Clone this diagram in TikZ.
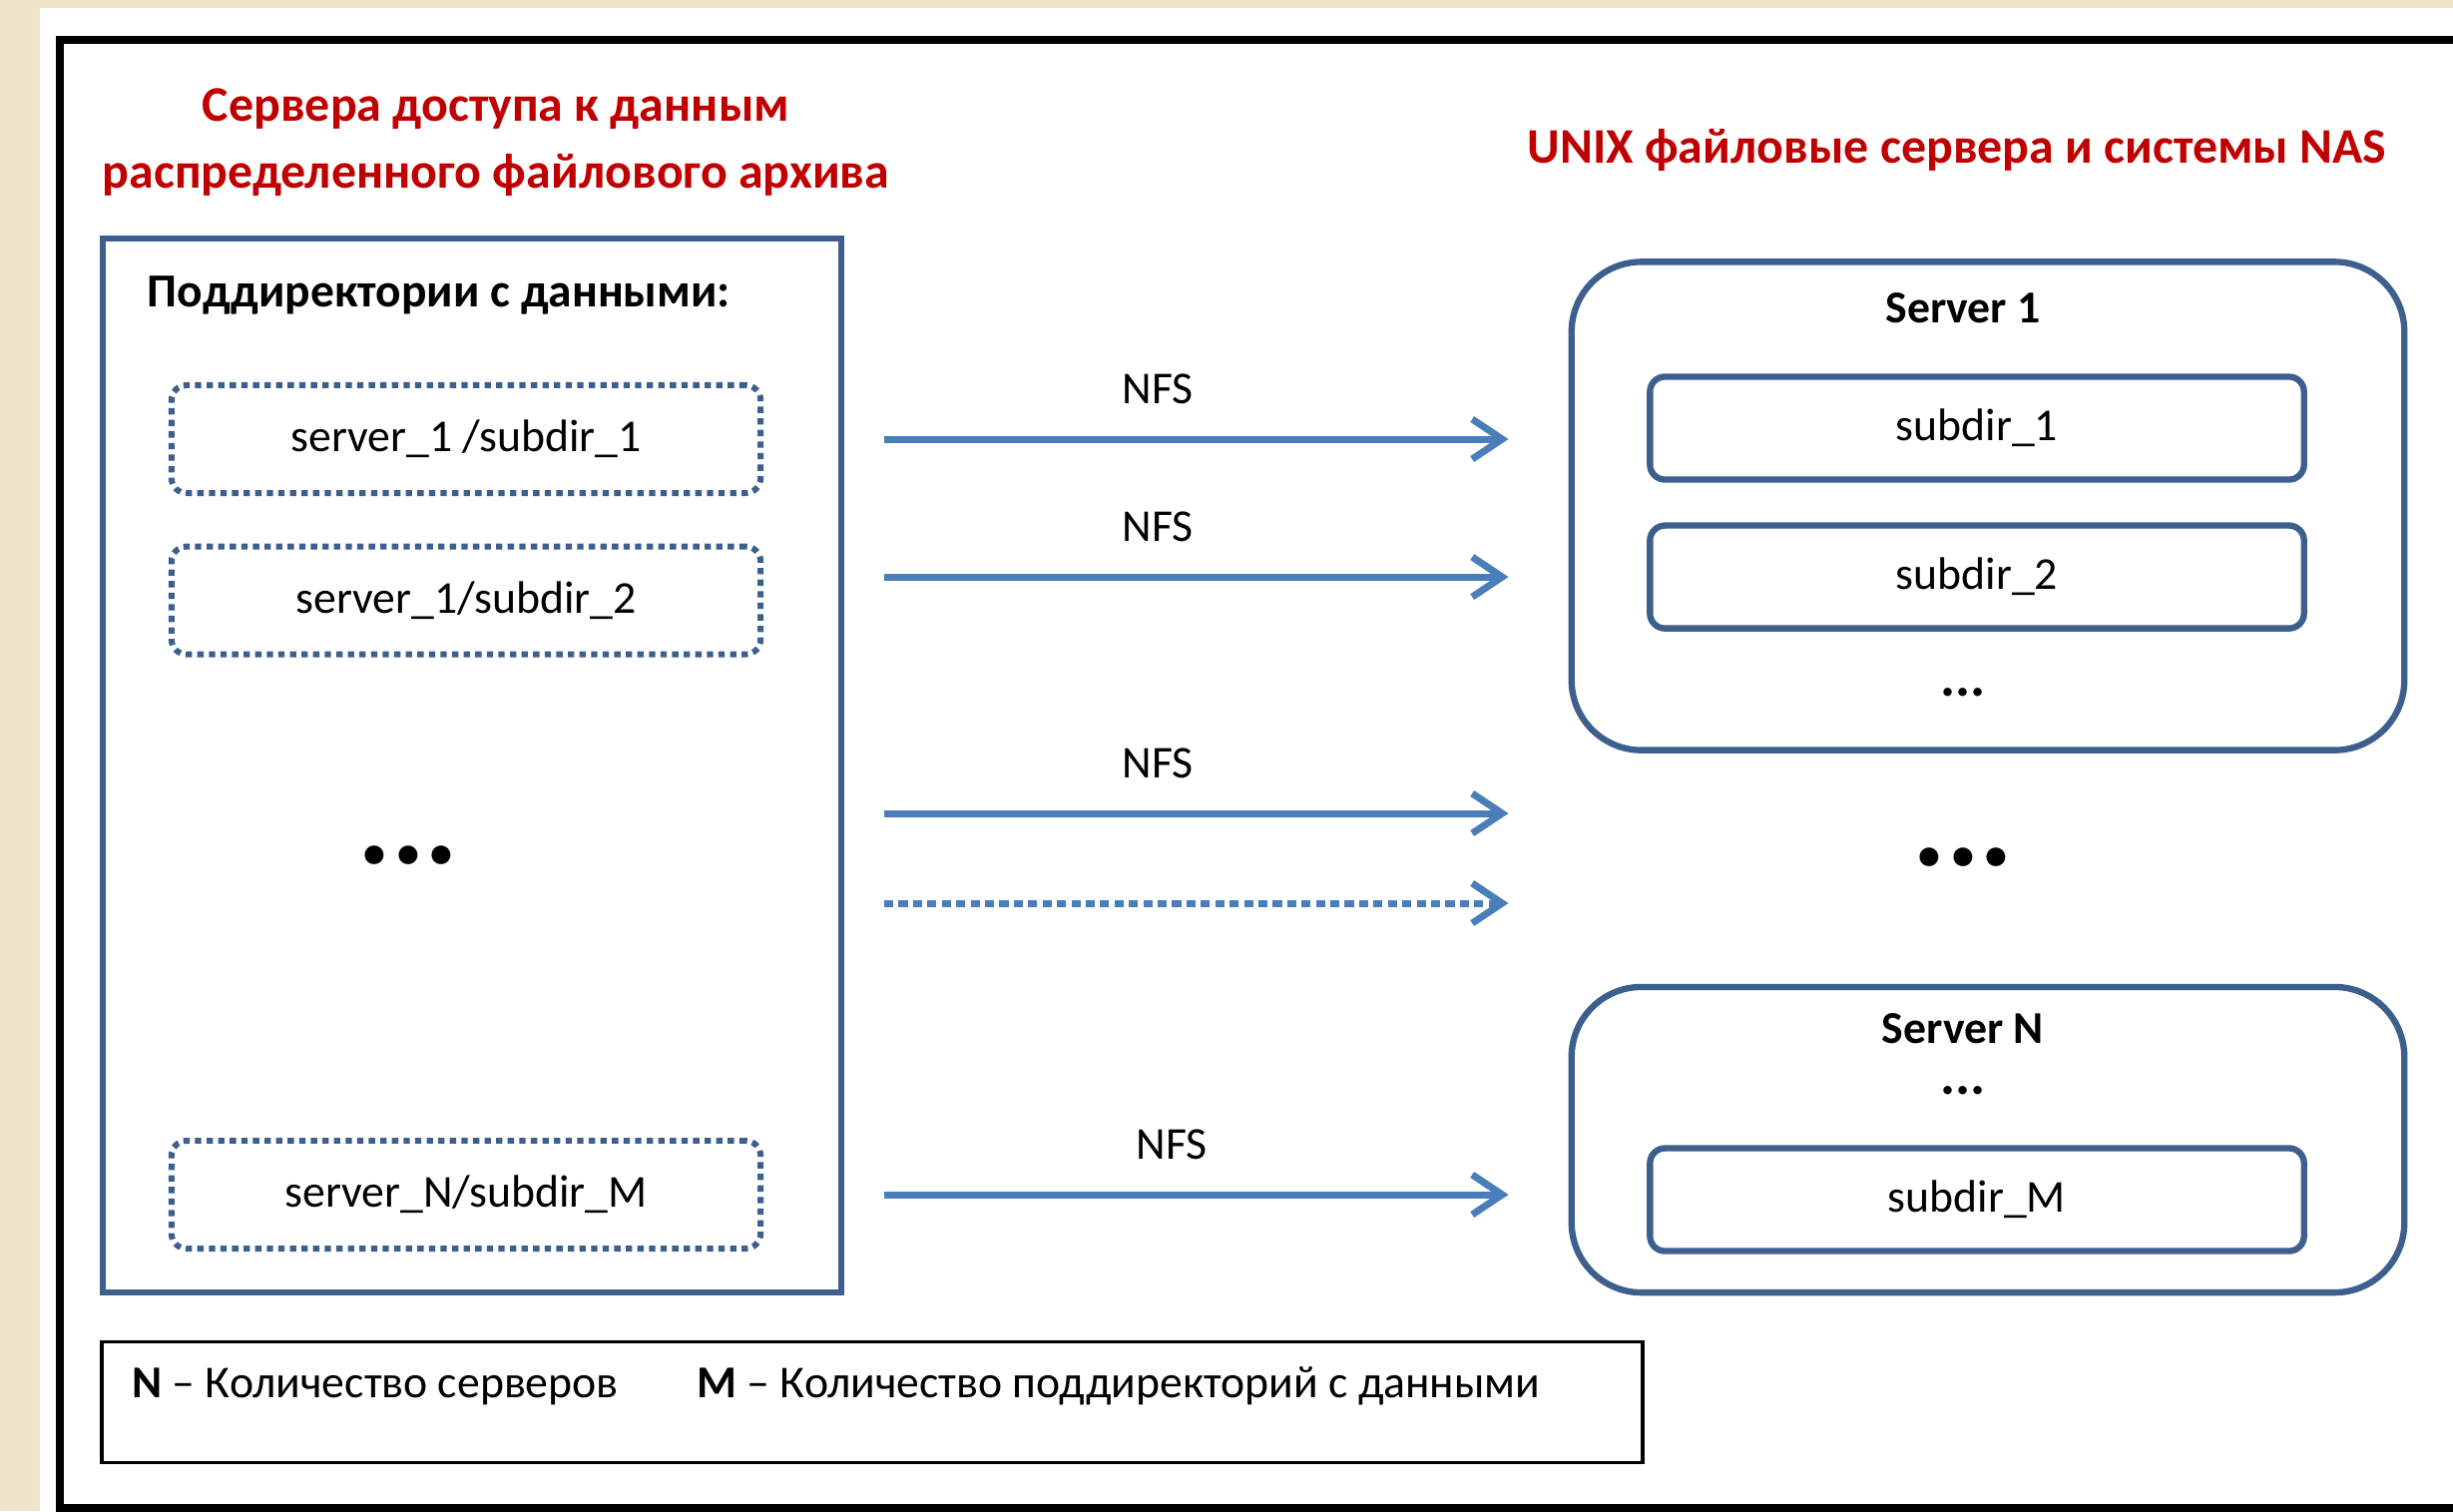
\documentclass[tikz,border=0pt]{standalone}
\usepackage{fontspec}
\setmainfont{Carlito}
\usetikzlibrary{arrows.meta}

\definecolor{frameblue}{HTML}{3D5F8E}
\definecolor{arrowblue}{HTML}{4A7EBB}
\definecolor{titlered}{HTML}{C00000}
\definecolor{paper}{HTML}{F1E5C9}

\begin{document}
\begin{tikzpicture}[x = 0.01cm, y = -0.01cm]
\tikzset{
   node distance = 1.49cm,
   txt/.style = {font = \fontsize{13}{15}\selectfont},
   txt_bold/.style = {font = \bfseries\fontsize{13}{15}\selectfont},
   title/.style = {font = \bfseries\fontsize{14.2}{19}\selectfont, text = titlered, align = center},
   archive/.style = {rectangle, draw = frameblue, line width = 1.6pt, minimum width = 7.4cm, minimum height = 10.55cm},
   dir_box/.style = {txt, rectangle, rounded corners = 0.15cm, draw = frameblue, line width = 1.7pt, dash pattern = on 1.8pt off 1.5pt, minimum width = 5.9cm, minimum height = 1.08cm},
   server_box/.style = {rectangle, rounded corners = 0.7cm, draw = frameblue, line width = 1.8pt, minimum width = 8.34cm},
   subdir_box/.style = {txt, rectangle, rounded corners = 0.15cm, draw = frameblue, line width = 1.8pt, minimum width = 6.55cm, minimum height = 1.03cm},
   nfs_arrow/.style = {draw = arrowblue, line width = 2pt, -{Straight Barb[length = 0.3cm, width = 0.4cm]}, shorten <= 0.4cm, shorten >= 0.6cm},
   nfs/.style = {txt, pos = 0.433, yshift = 0.5cm},
   dots/.style = {font = \bfseries\fontsize{16}{18}\selectfont},
   big_dots/.style = {font = \bfseries\fontsize{36}{40}\selectfont}
}
  \useasboundingbox (0,0) rectangle (2458,1514);
  \fill[paper] (0,0) rectangle (2458,1514);
  \fill[white] (40,8) rectangle (2458,1514);
  \draw[line width = 2.3pt] (2480,40) -- (60,40) -- (60,1511) -- (2480,1511);

  % titles
  \node[title] (left_title) at (497,143) {Сервера доступа к данным\\распределенного файлового архива};
  \node[title] (right_title) at (1961,150) {UNIX файловые сервера и системы NAS};

  % left side
  \node[archive] (archive) at (473,767) {};
  \node[txt_bold, font = \bfseries\fontsize{13.5}{15}\selectfont] (archive_name) at (440,296) {Поддиректории с данными:};
  \node[dir_box] (dir_one) at (467,440) {server\_1 /subdir\_1};
  \node[dir_box] (dir_two) [below of = dir_one, node distance = 1.615cm] {server\_1/subdir\_2};
  \node[big_dots] (dir_dots) at (409,857) {...};
  \node[dir_box] (dir_last) at (467,1197) {server\_N/subdir\_M};

  % right side
  \node[server_box, minimum height = 4.89cm] (server_one) at (1992,507) {};
  \node[txt_bold] (server_one_name) at (1967,309) {Server 1};
  \node[subdir_box] (sub_one) at (1981,429) {subdir\_1};
  \node[subdir_box] (sub_two) [below of = sub_one] {subdir\_2};
  \node[dots] (sub_dots) at (1967,694) {...};
  \node[big_dots] (server_dots) at (1967,859) {...};
  \node[server_box, minimum height = 3.06cm] (server_last) at (1992,1142) {};
  \node[txt_bold] (server_last_name) at (1967,1031) {Server N};
  \node[dots] (last_dots) at (1967,1093) {...};
  \node[subdir_box] (sub_last) at (1981,1202) {subdir\_M};

  % arrows
  \coordinate (lvl_c) at (0,815);
  \coordinate (lvl_d) at (0,905);
  \draw[nfs_arrow] (archive.east |- dir_one) -- node[nfs] {NFS} (server_one.west |- dir_one);
  \draw[nfs_arrow] (archive.east |- sub_two) -- node[nfs] {NFS} (server_one.west |- sub_two);
  \draw[nfs_arrow] (archive.east |- lvl_c) -- node[nfs] {NFS} (server_one.west |- lvl_c);
  \draw[nfs_arrow, dash pattern = on 2.6pt off 1.5pt] (archive.east |- lvl_d) -- (server_one.west |- lvl_d);
  \draw[nfs_arrow] (archive.east |- dir_last) -- node[nfs, pos = 0.452] {NFS} (server_last.west |- dir_last);

  % legend
  \node[rectangle, draw, line width = 1pt, minimum width = 15.43cm, minimum height = 1.21cm] (legend) at (874,1405) {};
  \node[txt, anchor = west] (legend_n) at (120,1389) {\textbf{N} – Количество серверов};
  \node[txt, anchor = west] (legend_m) at (686,1389) {\textbf{M} – Количество поддиректорий с данными};
\end{tikzpicture}
\end{document}
